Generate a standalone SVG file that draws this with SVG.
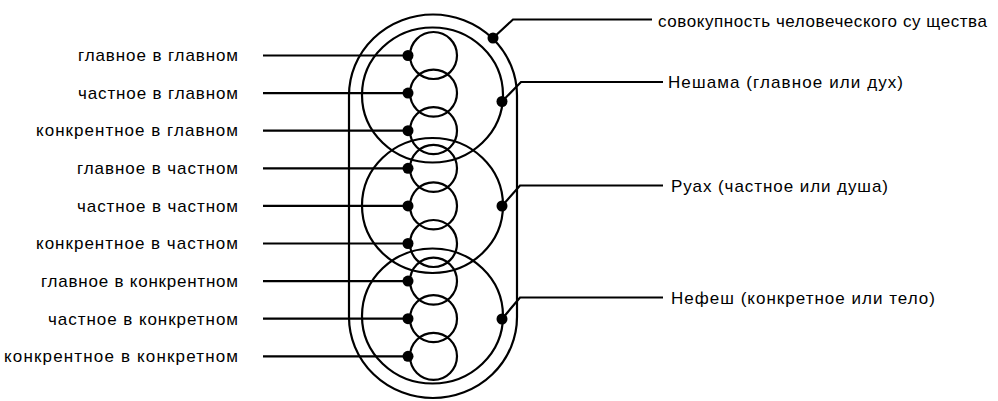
<svg xmlns="http://www.w3.org/2000/svg" width="998" height="401" viewBox="0 0 998 401">
<style>
.s{fill:none;stroke:#000;stroke-width:2.2}
.l{fill:none;stroke:#000;stroke-width:2.2}
.d{fill:#000}
text{font-family:"Liberation Sans",Arial,sans-serif;font-size:17px;fill:#000}
.r{text-anchor:end}
</style>
<rect width="998" height="401" fill="#fff"/>
<g id="whole">
<path class="s" d="M349,95.5 A84,81 0 0 1 517,95.5 L517,317 A84,81 0 0 1 349,317 Z"/>
</g>
<g id="neshama"><ellipse class="s" cx="432.5" cy="95" rx="70.5" ry="67.5"/></g>
<g id="ruah"><ellipse class="s" cx="432.5" cy="205.5" rx="70.5" ry="67.5"/></g>
<g id="nefesh"><ellipse class="s" cx="432.5" cy="316" rx="70.5" ry="67.5"/></g>
<g id="small">
<circle id="s1" class="s" cx="433.5" cy="55.5" r="23.5"/>
<circle id="s2" class="s" cx="433.5" cy="93.1" r="23.5"/>
<circle id="s3" class="s" cx="433.5" cy="130.7" r="23.5"/>
<circle id="s4" class="s" cx="433.5" cy="168.3" r="23.5"/>
<circle id="s5" class="s" cx="433.5" cy="205.9" r="23.5"/>
<circle id="s6" class="s" cx="433.5" cy="243.5" r="23.5"/>
<circle id="s7" class="s" cx="433.5" cy="281.1" r="23.5"/>
<circle id="s8" class="s" cx="433.5" cy="318.7" r="23.5"/>
<circle id="s9" class="s" cx="433.5" cy="356.3" r="23.5"/>
</g>
<g id="connectors">
<path class="l" d="M263,55.5H410M263,93.1H410M263,130.7H410M263,168.3H410M263,205.9H410M263,243.5H410M263,281.1H410M263,318.7H410M263,356.3H410"/>
<path class="l" d="M493,38L513,19.5H652M502,101.5L521,82H663M502,206L520,185.5H663M502,319L520,297.5H663"/>
<g class="d">
<circle cx="408" cy="55.5" r="5.5"/><circle cx="408" cy="93.1" r="5.5"/><circle cx="408" cy="130.7" r="5.5"/>
<circle cx="408" cy="168.3" r="5.5"/><circle cx="408" cy="205.9" r="5.5"/><circle cx="408" cy="243.5" r="5.5"/>
<circle cx="408" cy="281.1" r="5.5"/><circle cx="408" cy="318.7" r="5.5"/><circle cx="408" cy="356.3" r="5.5"/>
<circle cx="493" cy="38" r="5.5"/><circle cx="502" cy="101.5" r="5.5"/><circle cx="502" cy="206" r="5.5"/><circle cx="502" cy="319" r="5.5"/>
</g>
</g>
<g id="labels-left">
<text class="r" x="238" y="61" textLength="160" lengthAdjust="spacing">главное в главном</text>
<text class="r" x="238" y="98.5" textLength="160" lengthAdjust="spacing">частное в главном</text>
<text class="r" x="238" y="136" textLength="202" lengthAdjust="spacing">конкрентное в главном</text>
<text class="r" x="238" y="174" textLength="161" lengthAdjust="spacing">главное в частном</text>
<text class="r" x="238" y="211.5" textLength="161" lengthAdjust="spacing">частное в частном</text>
<text class="r" x="238" y="249" textLength="202" lengthAdjust="spacing">конкрентное в частном</text>
<text class="r" x="238" y="287" textLength="197" lengthAdjust="spacing">главное в конкрентном</text>
<text class="r" x="238" y="324.5" textLength="190" lengthAdjust="spacing">частное в конкретном</text>
<text class="r" x="238" y="362" textLength="234" lengthAdjust="spacing">конкрентное в конкретном</text>
</g>
<g id="labels-right">
<text x="658" y="27" textLength="329" lengthAdjust="spacing">совокупность человеческого су щества</text>
<text x="668" y="88" textLength="235" lengthAdjust="spacing">Нешама (главное или дух)</text>
<text x="671" y="191.5" textLength="217" lengthAdjust="spacing">Руах (частное или душа)</text>
<text x="671" y="303.5" textLength="264" lengthAdjust="spacing">Нефеш (конкретное или тело)</text>
</g>
</svg>
